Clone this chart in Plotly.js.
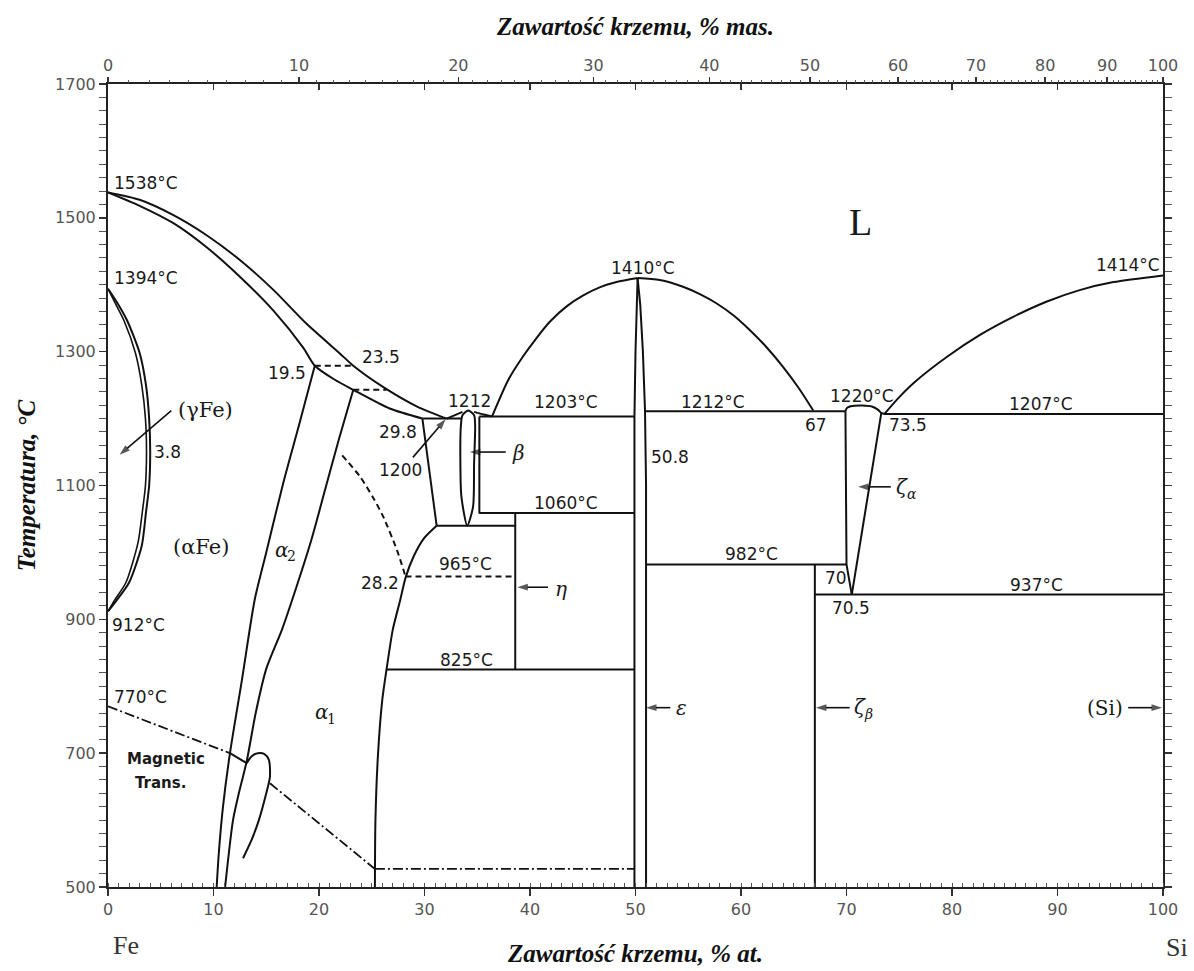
<!DOCTYPE html>
<html><head><meta charset="utf-8">
<script src="https://cdn.plot.ly/plotly-3.0.1.min.js"></script>
<style>html,body{margin:0;padding:0;background:#fff}#chart{width:1194px;height:971px}</style>
</head><body><div id="chart"></div>
<script>
// ---- Data (at.% Si, temperature °C) ----
const liqFeX = [0, 3, 6.2, 9.35, 12.5, 15.7, 18.8, 22.0, 23.25, 26.1, 29.3, 32.1];
const liqFeT = [1538, 1527, 1504, 1474, 1437, 1392, 1342, 1297, 1279, 1247, 1218, 1200];
const solFeX = [0, 3, 6.2, 9.35, 12.5, 15.7, 18.5, 19.6, 21.5, 23.25, 26.7, 29.8];
const solFeT = [1538, 1518, 1492, 1456, 1412, 1361, 1306, 1279, 1258, 1243, 1215, 1200];
const gamOutX = [0, 0.8, 1.8, 3.0, 3.6, 3.9, 4.0, 3.9, 3.6, 3.2, 2.0, 0.8, 0];
const gamOutT = [1394, 1375, 1347, 1298, 1250, 1200, 1150, 1100, 1060, 1010, 955, 928, 912];
const gamInX = [0, 0.6, 1.5, 2.6, 3.2, 3.55, 3.65, 3.55, 3.25, 2.85, 1.7, 0.6, 0];
const gamInT = [1394, 1375, 1347, 1298, 1250, 1200, 1150, 1100, 1060, 1015, 955, 928, 912];
const a2LeftX = [19.6, 18.1, 16.6, 15.0, 13.9, 12.7, 11.56, 10.9, 10.5, 10.3];
const a2LeftT = [1279, 1190, 1103, 1000, 929, 810, 700, 620, 550, 500];
const a2RightX = [23.25, 21.9, 20.6, 19.3, 18.0, 16.5, 15.0, 14.0, 13.15, 12.4, 11.85, 11.1];
const a2RightT = [1243, 1170, 1095, 1020, 955, 885, 826, 760, 688, 640, 600, 500];
const dash195X = [19.6, 23.2];   const dash195T = [1279, 1279];
const dash235X = [23.25, 26.4];  const dash235T = [1243, 1243];
const orderX = [22.2, 23.9, 25.2, 26.1, 27.4, 28.2];
const orderT = [1145, 1113, 1080, 1053, 1003, 964];
const a1RightX = [25.3, 25.35, 25.6, 26.0, 26.4, 27.0, 27.7, 28.2, 29.0, 30.0, 31.15];
const a1RightT = [500, 600, 700, 780, 825, 885, 929, 962, 995, 1022, 1040];
const iso965X = [28.2, 38.6];    const iso965T = [964, 964];
const lbX = [29.8, 31.15];       const lbT = [1200, 1040];
const iso1200X = [29.8, 33.5];   const iso1200T = [1200, 1200];
const betaX = [34.05, 33.5, 33.4, 33.45, 33.6, 34.15, 34.7, 34.8, 34.7, 34.6, 34.05];
const betaT = [1040, 1083, 1133, 1190, 1205, 1212, 1205, 1190, 1133, 1068, 1040];
const betaRX = [35.2, 35.2];     const betaRT = [1203, 1058];
const liqBetaLX = [32.1, 33.0, 33.6];  const liqBetaLT = [1200, 1206, 1210];
const liqBetaRX = [34.7, 35.6, 36.4];  const liqBetaRT = [1210, 1206, 1203];
const iso1203X = [35.2, 49.9];   const iso1203T = [1203, 1203];
const iso1060X = [35.2, 49.9];   const iso1060T = [1059, 1059];
const iso1040X = [31.15, 38.6];  const iso1040T = [1040, 1040];
const etaX = [38.6, 38.6];       const etaT = [1059, 825];
const iso825X = [26.4, 49.9];    const iso825T = [825, 825];
const domeLX = [36.4, 37.95, 39.3, 40.6, 41.9, 43.5, 45.05, 46.6, 48.2, 50.2];
const domeLT = [1203, 1258, 1292, 1320, 1345, 1368, 1384, 1396, 1404, 1410];
const domeRX = [50.2, 52.3, 54.5, 56.1, 57.7, 59.3, 60.85, 62.4, 64.0, 65.5, 66.85];
const domeRT = [1410, 1407, 1397, 1386, 1372, 1354, 1332, 1307, 1277, 1245, 1212];
const epsLX = [49.9, 49.9, 50.0, 50.1, 50.2];   const epsLT = [500, 1203, 1300, 1370, 1410];
const epsRX = [50.2, 50.45, 50.7, 50.9, 51.0, 51.0]; const epsRT = [1410, 1370, 1300, 1212, 1100, 500];
const iso1212X = [50.9, 69.9];   const iso1212T = [1211, 1211];
const zaCapX = [69.9, 70.05, 70.4, 71.5, 72.4, 73.0, 73.3, 73.65];
const zaCapT = [1211, 1216, 1218.5, 1219.5, 1218, 1213, 1208.5, 1207];
const zaLeftX = [69.9, 70.0, 70.5];  const zaLeftT = [1211, 982, 937];
const zaRightX = [73.3, 70.5];       const zaRightT = [1208.5, 937];
const iso982X = [51.0, 70.0];    const iso982T = [982, 982];
const zbX = [67.0, 67.0];        const zbT = [500, 982];
const iso937X = [67.0, 100];     const iso937T = [937, 937];
const iso1207X = [73.5, 100];    const iso1207T = [1207, 1207];
const liqSiX = [73.6, 75.0, 76.5, 79.5, 82.65, 85.8, 89.0, 92.1, 95.3, 100];
const liqSiT = [1207, 1232, 1255, 1292, 1325, 1352, 1375, 1392, 1404, 1414];
const mag1X = [0, 11.56];        const mag1T = [770, 700];
const magSolidX = [11.56, 13.15]; const magSolidT = [700, 685];
const magLoopX = [13.15, 13.6, 14.2, 14.8, 15.25, 15.35, 15.0, 14.3, 13.6, 12.8];
const magLoopT = [685, 695, 700, 699, 690, 665, 640, 600, 570, 543];
const mag2X = [15.35, 25.3];     const mag2T = [655, 527];
const mag3X = [25.3, 49.9];      const mag3T = [527, 527];

// pointer arrows: [tailX, tipX], [tailT, tipT]
const arrGamX = [6.0, 1.1];     const arrGamT = [1212, 1146];
const arr1200X = [28.9, 32.0];  const arr1200T = [1142, 1199];
const arrBetaX = [37.7, 34.3];  const arrBetaT = [1150, 1150];
const arrEtaX = [41.7, 38.8];   const arrEtaT = [948, 948];
const arrEpsX = [53.3, 51.0];   const arrEpsT = [768, 768];
const arrZbX = [70.3, 67.1];    const arrZbT = [768, 768];
const arrSiX = [96.7, 99.9];    const arrSiT = [768, 768];
const arrZaX = [74.2, 71.1];    const arrZaT = [1098, 1098];

// axis ticks
const atTicks = [0, 10, 20, 30, 40, 50, 60, 70, 80, 90, 100];
const wtTicks = [0, 10, 20, 30, 40, 50, 60, 70, 80, 90, 100];
const tempTicks = [500, 700, 900, 1100, 1300, 1500, 1700];
const M_SI = 28.0855, M_FE = 55.845;
function wtToAt(w){ if (w<=0) return 0; if (w>=100) return 100; const a=w/M_SI, b=(100-w)/M_FE; return 100*a/(a+b); }
const wtMinor = []; for (let w=0; w<=100; w+=1) wtMinor.push(wtToAt(w));

// ---- Traces ----
const INK = '#111';
function ln(x, y, opt){
  opt = opt || {};
  return {x:x, y:y, type:'scatter', mode:'lines', hoverinfo:'skip', showlegend:false,
    line:{color:INK, width:opt.w||2, dash:opt.dash||'solid', shape:opt.spline?'spline':'linear', smoothing:opt.spline?0.7:undefined}};
}
function arrow(x, y){
  return {x:x, y:y, type:'scatter', mode:'lines+markers', hoverinfo:'skip', showlegend:false,
    line:{color:INK, width:1.6},
    marker:{symbol:'arrow', angleref:'previous', size:[0, 11], color:INK, line:{width:0}}};
}
const DASH = '6px,4px';
const DASHDOT = '10px,3px,2px,3px';
const traces = [
  ln(liqFeX, liqFeT, {spline:true}),
  ln(solFeX, solFeT, {spline:true}),
  ln(gamOutX, gamOutT, {spline:true}),
  ln(gamInX, gamInT, {spline:true, w:1.6}),
  ln(a2LeftX, a2LeftT, {spline:true}),
  ln(a2RightX, a2RightT, {spline:true}),
  ln(dash195X, dash195T, {dash:DASH}),
  ln(dash235X, dash235T, {dash:DASH}),
  ln(orderX, orderT, {spline:true, dash:DASH}),
  ln(a1RightX, a1RightT, {spline:true}),
  ln(iso965X, iso965T, {dash:DASH}),
  ln(lbX, lbT),
  ln(iso1200X, iso1200T),
  ln(betaX, betaT, {spline:true}),
  ln(betaRX, betaRT),
  ln(liqBetaLX, liqBetaLT, {spline:true}),
  ln(liqBetaRX, liqBetaRT, {spline:true}),
  ln(iso1203X, iso1203T),
  ln(iso1060X, iso1060T),
  ln(iso1040X, iso1040T),
  ln(etaX, etaT),
  ln(iso825X, iso825T),
  ln(domeLX, domeLT, {spline:true}),
  ln(domeRX, domeRT, {spline:true}),
  ln(epsLX, epsLT),
  ln(epsRX, epsRT),
  ln(iso1212X, iso1212T),
  ln(zaCapX, zaCapT, {spline:true}),
  ln(zaLeftX, zaLeftT),
  ln(zaRightX, zaRightT),
  ln(iso982X, iso982T),
  ln(zbX, zbT),
  ln(iso937X, iso937T),
  ln(iso1207X, iso1207T),
  ln(liqSiX, liqSiT, {spline:true}),
  ln(mag1X, mag1T, {dash:DASHDOT, w:1.8}),
  ln(magSolidX, magSolidT),
  ln(magLoopX, magLoopT, {spline:true}),
  ln(mag2X, mag2T, {dash:DASHDOT, w:1.8}),
  ln(mag3X, mag3T, {dash:DASHDOT, w:1.8}),
  arrow(arrGamX, arrGamT),
  arrow(arr1200X, arr1200T),
  arrow(arrBetaX, arrBetaT),
  arrow(arrEtaX, arrEtaT),
  arrow(arrEpsX, arrEpsT),
  arrow(arrZbX, arrZbT),
  arrow(arrSiX, arrSiT),
  arrow(arrZaX, arrZaT),
  // carriers for the extra axes
  {x:[0,100], y:[500,500], xaxis:'x2', yaxis:'y', type:'scatter', mode:'lines', line:{width:0}, opacity:0, hoverinfo:'skip', showlegend:false},
  {x:[0,100], y:[500,500], xaxis:'x3', yaxis:'y', type:'scatter', mode:'lines', line:{width:0}, opacity:0, hoverinfo:'skip', showlegend:false}
];

// ---- Labels ----
const NUM = {family:'DejaVu Sans', size:17, color:'#1a1a1a'};
const GRK = {family:'DejaVu Serif', size:20, color:'#1a1a1a', style:'italic'};
const SUB = {family:'DejaVu Serif', size:14, color:'#1a1a1a', style:'italic'};
const SUBN = {family:'DejaVu Serif', size:14, color:'#1a1a1a'};
function t(x, y, text, font, anchor){
  return {x:x, y:y, xref:'x', yref:'y', text:text, showarrow:false, font:font||NUM, xanchor:anchor||'center', yanchor:'middle'};
}
const MAGF = {family:'DejaVu Sans', size:15, color:'#1a1a1a', weight:'bold'};
const annotations = [
  t(0.35, 1552, '1538°C', NUM, 'left'),
  t(0.35, 1410, '1394°C', NUM, 'left'),
  t(0.2, 891, '912°C', NUM, 'left'),
  t(0.35, 784, '770°C', NUM, 'left'),
  t(5.5, 692, 'Magnetic', MAGF),
  t(4.95, 655, 'Trans.', MAGF),
  t(8.8, 1008, '(αFe)', {family:'DejaVu Serif', size:21, color:'#1a1a1a'}),
  t(15.6, 1004, 'α', GRK, 'left'),
  t(16.75, 994, '2', SUBN, 'left'),
  t(19.4, 761, 'α', GRK, 'left'),
  t(20.55, 751, '1', SUBN, 'left'),
  t(9.2, 1213, '(γFe)', {family:'DejaVu Serif', size:21, color:'#1a1a1a'}),
  t(5.6, 1150, '3.8'),
  t(17.0, 1268, '19.5'),
  t(25.9, 1292, '23.5'),
  t(27.5, 1180, '29.8'),
  t(27.7, 1123, '1200'),
  t(34.3, 1226, '1212'),
  t(38.9, 1148, 'β', GRK),
  t(43.4, 1225, '1203°C'),
  t(43.4, 1074, '1060°C'),
  t(33.9, 983, '965°C'),
  t(25.8, 954, '28.2'),
  t(42.9, 946, 'η', GRK),
  t(34.0, 839, '825°C'),
  t(54.4, 768, 'ε', GRK),
  t(50.7, 1425, '1410°C'),
  t(57.3, 1225, '1212°C'),
  t(53.3, 1142, '50.8'),
  t(67.1, 1190, '67'),
  t(61.0, 998, '982°C'),
  t(69.0, 962, '70'),
  t(70.4, 917, '70.5'),
  t(71.5, 1234, '1220°C'),
  t(75.8, 1190, '73.5'),
  t(74.5, 1098, 'ζ', GRK, 'left'),
  t(75.5, 1088, 'α', SUB, 'left'),
  t(88.4, 1222, '1207°C'),
  t(88.0, 951, '937°C'),
  t(70.5, 769, 'ζ', GRK, 'left'),
  t(71.5, 759, 'β', SUB, 'left'),
  t(96.4, 768, '(Si)', {family:'DejaVu Serif', size:20, color:'#1a1a1a'}, 'right'),
  t(96.7, 1429, '1414°C'),
  t(71.3, 1494, 'L', {family:'Liberation Serif', size:38, color:'#1a1a1a'}),
  {x:(126-108)/1055, y:(887-945)/803, xref:'paper', yref:'paper', text:'Fe', showarrow:false,
   font:{family:'Liberation Serif', size:26, color:'#333'}, xanchor:'center', yanchor:'middle'},
  {x:(1177-108)/1055, y:(887-947)/803, xref:'paper', yref:'paper', text:'Si', showarrow:false,
   font:{family:'Liberation Serif', size:26, color:'#333'}, xanchor:'center', yanchor:'middle'}
];

const TICKF = {family:'DejaVu Sans', size:16, color:'#555'};
const TITLEF = {family:'Liberation Serif', size:25, color:'#111', weight:'bold', style:'italic'};
const layout = {
  width:1194, height:971,
  margin:{l:108, r:31, t:84, b:84, pad:0},
  paper_bgcolor:'#fff', plot_bgcolor:'#fff',
  showlegend:false,
  xaxis:{range:[0,100], tickmode:'array', tickvals:atTicks, ticktext:atTicks.map(String),
    ticks:'outside', ticklen:7, tickwidth:1.5, tickcolor:'#333',
    minor:{dtick:1, tick0:0, ticks:'inside', ticklen:4, tickcolor:'#555', tickwidth:1},
    showline:true, linecolor:'#222', linewidth:2, mirror:true, showgrid:false, zeroline:false,
    tickfont:TICKF,
    title:{text:'Zawartość krzemu, % at.', font:TITLEF, standoff:26}},
  xaxis2:{overlaying:'x', side:'top', range:[0,100], tickmode:'array',
    tickvals:wtTicks.map(wtToAt), ticktext:wtTicks.map(String),
    ticks:'outside', ticklen:6, tickwidth:1.5, tickcolor:'#333',
    minor:{tickmode:'array', tickvals:wtMinor, ticks:'outside', ticklen:3, tickcolor:'#555', tickwidth:1},
    showline:false, showgrid:false, zeroline:false, tickfont:TICKF,
    title:{text:'Zawartość krzemu, % mas.', font:TITLEF, standoff:12}},
  xaxis3:{overlaying:'x', side:'top', range:[0,100], tickmode:'linear', tick0:0, dtick:10,
    ticks:'inside', ticklen:6, tickwidth:1.5, tickcolor:'#333', showticklabels:false,
    showline:false, showgrid:false, zeroline:false},
  yaxis:{range:[500,1700], tickmode:'array', tickvals:tempTicks, ticktext:tempTicks.map(String),
    ticks:'outside', ticklen:7, tickwidth:1.5, tickcolor:'#333',
    minor:{dtick:20, tick0:500, ticks:'outside', ticklen:4, tickcolor:'#555', tickwidth:1},
    showline:true, linecolor:'#222', linewidth:2, mirror:'allticks', showgrid:false, zeroline:false,
    tickfont:TICKF,
    title:{text:'Temperatura, °C', font:TITLEF, standoff:12}},
  annotations:annotations
};
Plotly.newPlot('chart', traces, layout, {staticPlot:true, displayModeBar:false});
</script></body></html>
